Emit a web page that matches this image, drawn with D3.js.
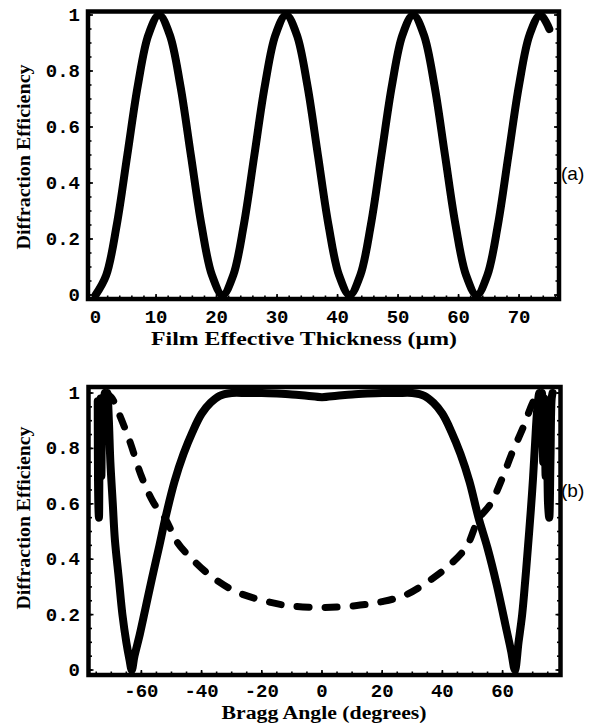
<!DOCTYPE html>
<html><head><meta charset="utf-8">
<script src="https://cdn.jsdelivr.net/npm/d3@7"></script>
<style>
html,body{margin:0;padding:0;background:#fff;}
svg{display:block;}
.tick-label{font-family:"Liberation Mono",monospace;font-weight:bold;font-size:19px;fill:#000;}
.title{font-family:"Liberation Serif","Times New Roman",serif;font-weight:bold;fill:#000;}
.panel{font-family:"Liberation Sans",Arial,sans-serif;font-size:19px;fill:#000;}
</style></head>
<body>
<script>
// ---------- Data ----------
// Panel (a): efficiency vs film effective thickness
const thicknessUm = [0,1.75,3.5,5.25,7,8.75,10.5,12.25,14,15.75,17.5,19.25,21,22.75,24.5,26.25,28,29.75,31.5,33.25,35,36.75,38.5,40.25,42,43.75,45.5,47.25,49,50.75,52.5,54.25,56,57.75,59.5,61.25,63,64.75,66.5,68.25,70,71.75,73.5,75];
const efficiencyA = [0,0.07,0.25,0.5,0.75,0.93,1,0.93,0.75,0.5,0.25,0.07,0,0.07,0.25,0.5,0.75,0.93,1,0.93,0.75,0.5,0.25,0.07,0,0.07,0.25,0.5,0.75,0.93,1,0.93,0.75,0.5,0.25,0.07,0,0.07,0.25,0.5,0.75,0.93,1,0.95];
const thicknessTicks = [0,10,20,30,40,50,60,70];
const efficiencyTicks = [0,0.2,0.4,0.6,0.8,1];
const efficiencyTickLabels = ["0","0.2","0.4","0.6","0.8","1"];

// Panel (b): efficiency vs Bragg angle, solid curve
const braggAngleSolid = [-74.5,-74.3,-74.1,-73.9,-73.6,-73.3,-73.0,-72.6,-72.2,-71.8,-71.3,-70.8,-70.3,-69.5,-68.8,-67.5,-66.3,-65,-64,-63.2,-62.3,-60.5,-58.5,-56.5,-54,-52,-49,-46,-43,-40,-37,-34,-30,-25,-20,-15,-10,-5,0,5,10,15,20,25,30,34,37,40,43,46,49,52,55,58,61.4,62.8,64.1,65.3,66.5,67.5,68.4,69.4,70.1,70.8,71.5,72.2,72.7,73.1,73.5,73.9,74.3,74.7,75.1,75.5,75.9,76.3,76.6];
const efficiencySolid = [0.97,0.6,0.55,0.8,0.98,0.7,0.95,0.85,1.0,0.92,1.0,0.9,0.75,0.6,0.47,0.33,0.2,0.1,0.04,0.0,0.05,0.13,0.23,0.33,0.45,0.55,0.68,0.78,0.86,0.925,0.965,0.99,1.0,1.0,1.0,0.998,0.995,0.99,0.985,0.99,0.995,0.998,1.0,1.0,1.0,0.99,0.965,0.925,0.86,0.78,0.68,0.55,0.44,0.31,0.14,0.07,0.0,0.1,0.2,0.32,0.44,0.58,0.69,0.82,0.94,1.0,0.9,1.0,0.75,0.98,0.7,0.95,0.6,0.55,0.75,0.98,1.0];
// Panel (b): dashed curve
const braggAngleDashed = [-72,-70,-68,-64,-60,-56,-52,-48,-44,-37,-29,-20,-11,0,11,20,28,36,42,48,52,56,60,63,67,70,72];
const efficiencyDashed = [1.0,0.985,0.94,0.83,0.7,0.605,0.545,0.46,0.41,0.34,0.285,0.252,0.232,0.226,0.232,0.247,0.272,0.325,0.375,0.445,0.545,0.6,0.695,0.78,0.88,0.965,1.0];
const angleTicks = [-60,-40,-20,0,20,40,60];

// ---------- Drawing ----------
const W = 597, H = 725;
const svg = d3.select("body").append("svg").attr("width", W).attr("height", H);
const defs = svg.append("defs");

function range(a, b, s) { const r = []; for (let v = a; v <= b + 1e-9; v += s) r.push(+v.toFixed(4)); return r; }

function frame(g, x, y, xMinor, yMinor, xMajor, yMajor) {
  const [x0, x1] = x.range(), [y0, y1] = y.range();
  const tk = g.append("g").attr("stroke", "#000").attr("stroke-width", 1.6);
  xMinor.forEach(v => tk.append("line").attr("x1", x(v)).attr("x2", x(v)).attr("y1", y0).attr("y2", y0 - 3.5));
  xMajor.forEach(v => tk.append("line").attr("x1", x(v)).attr("x2", x(v)).attr("y1", y0).attr("y2", y0 - 5));
  yMinor.forEach(v => {
    tk.append("line").attr("x1", x0).attr("x2", x0 + 3.5).attr("y1", y(v)).attr("y2", y(v));
    tk.append("line").attr("x1", x1).attr("x2", x1 - 3.5).attr("y1", y(v)).attr("y2", y(v));
  });
  yMajor.forEach(v => {
    tk.append("line").attr("x1", x0).attr("x2", x0 + 5).attr("y1", y(v)).attr("y2", y(v));
    tk.append("line").attr("x1", x1).attr("x2", x1 - 5).attr("y1", y(v)).attr("y2", y(v));
  });
  g.append("rect").attr("x", x0).attr("y", y1).attr("width", x1 - x0).attr("height", y0 - y1)
    .attr("fill", "none").attr("stroke", "#000").attr("stroke-width", 4.5);
}
function clip(id, x, y) {
  const [x0, x1] = x.range(), [y0, y1] = y.range();
  defs.append("clipPath").attr("id", id).append("rect").attr("x", x0).attr("y", y1).attr("width", x1 - x0).attr("height", y0 - y1);
  return "url(#" + id + ")";
}

// ---- Panel (a) ----
const xa = d3.scaleLinear().domain([-1.25, 76.6]).range([88, 559]);
const ya = d3.scaleLinear().domain([-0.0143, 1.0125]).range([299, 11.5]);
const ga = svg.append("g");
frame(ga, xa, ya, range(0, 76, 2), range(0, 1, 0.05), thicknessTicks, efficiencyTicks);

const lineA = d3.line().x((d, i) => xa(thicknessUm[i])).y(d => ya(d)).curve(d3.curveCatmullRom.alpha(0.5));
ga.append("path").attr("clip-path", clip("ca", xa, ya)).attr("d", lineA(efficiencyA)).attr("fill", "none").attr("stroke", "#000")
  .attr("stroke-width", 8).attr("stroke-linejoin", "round").attr("stroke-linecap", "round");

ga.selectAll(".xl").data(thicknessTicks).join("text").attr("class", "tick-label")
  .attr("x", d => xa(d)).attr("y", 323).attr("text-anchor", "middle").text(d => d);
ga.selectAll(".yl").data(efficiencyTicks).join("text").attr("class", "tick-label")
  .attr("x", 80).attr("y", d => ya(d) + 6).attr("text-anchor", "end").text((d, i) => efficiencyTickLabels[i]);
ga.append("text").attr("class", "title").attr("font-size", 18.5).attr("x", 304).attr("y", 345)
  .attr("text-anchor", "middle").attr("textLength", 306).attr("lengthAdjust", "spacingAndGlyphs")
  .text("Film Effective Thickness (\u00b5m)");
ga.append("text").attr("class", "title").attr("font-size", 19)
  .attr("transform", "translate(30,157) rotate(-90)").attr("text-anchor", "middle")
  .attr("textLength", 185).attr("lengthAdjust", "spacingAndGlyphs").text("Diffraction Efficiency");
ga.append("text").attr("class", "panel").attr("x", 561).attr("y", 180).text("(a)");

// ---- Panel (b) ----
const xb = d3.scaleLinear().domain([-77.57, 79.24]).range([88.5, 560.5]);
const yb = d3.scaleLinear().domain([-0.018, 1.0217]).range([675, 387]);
const gb = svg.append("g");
frame(gb, xb, yb, range(-75, 75, 5), range(0, 1, 0.05), angleTicks, efficiencyTicks);

const cb = clip("cb", xb, yb);
const lineS = d3.line().x((d, i) => xb(braggAngleSolid[i])).y(d => yb(d)).curve(d3.curveCatmullRom.alpha(0.5));
gb.append("path").attr("clip-path", cb).attr("d", lineS(efficiencySolid)).attr("fill", "none").attr("stroke", "#000")
  .attr("stroke-width", 8).attr("stroke-linejoin", "round").attr("stroke-linecap", "round");
const lineD = d3.line().x((d, i) => xb(braggAngleDashed[i])).y(d => yb(d)).curve(d3.curveCatmullRom.alpha(0.5));
gb.append("path").attr("clip-path", cb).attr("d", lineD(efficiencyDashed)).attr("fill", "none").attr("stroke", "#000")
  .attr("stroke-width", 7).attr("stroke-dasharray", "12,16").attr("stroke-linecap", "round");

gb.selectAll(".xl").data(angleTicks).join("text").attr("class", "tick-label")
  .attr("x", d => xb(d)).attr("y", 697).attr("text-anchor", "middle").text(d => d < 0 ? "-" + Math.abs(d) : d);
gb.selectAll(".yl").data(efficiencyTicks).join("text").attr("class", "tick-label")
  .attr("x", 80).attr("y", d => yb(d) + 6).attr("text-anchor", "end").text((d, i) => efficiencyTickLabels[i]);
gb.append("text").attr("class", "title").attr("font-size", 18.5).attr("x", 324).attr("y", 719)
  .attr("text-anchor", "middle").attr("textLength", 205).attr("lengthAdjust", "spacingAndGlyphs")
  .text("Bragg Angle (degrees)");
gb.append("text").attr("class", "title").attr("font-size", 19)
  .attr("transform", "translate(30,518) rotate(-90)").attr("text-anchor", "middle")
  .attr("textLength", 183).attr("lengthAdjust", "spacingAndGlyphs").text("Diffraction Efficiency");
gb.append("text").attr("class", "panel").attr("x", 561).attr("y", 497).text("(b)");
</script>
</body></html>
